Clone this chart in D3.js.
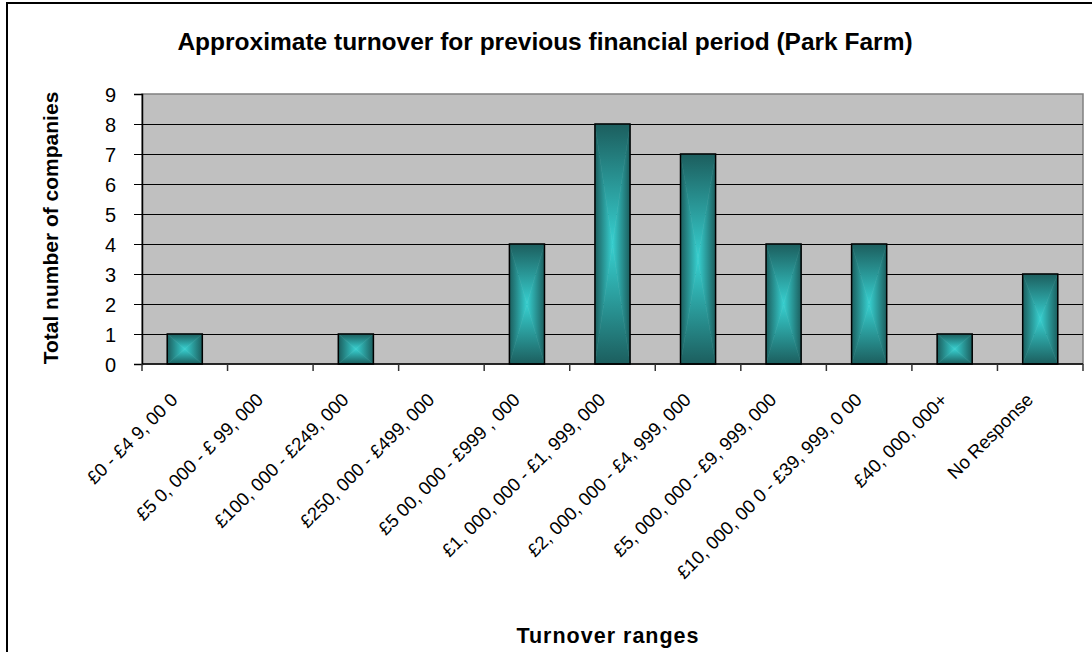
<!DOCTYPE html>
<html><head><meta charset="utf-8">
<script src="https://cdn.jsdelivr.net/npm/d3@7"></script>
<style>
html,body{margin:0;padding:0;background:#fff;}
text{font-family:"Liberation Sans",Arial,sans-serif;fill:#000;}
</style></head>
<body><svg id="c" width="1092" height="652"></svg>
<script>
const categories = ["£0 - £4 9, 00 0","£5 0, 000 - £ 99, 000","£100, 000 - £249, 000","£250, 000 - £499, 000","£5 00, 000 - £999 , 000","£1, 000, 000 - £1, 999, 000","£2, 000, 000 - £4, 999, 000","£5, 000, 000 - £9, 999, 000","£10, 000, 00 0 - £39, 999, 0 00","£40, 000, 000+","No Response"];
const values = [1,0,1,0,4,8,7,4,4,1,3];
const yTicks = [0,1,2,3,4,5,6,7,8,9];
const titleText = "Approximate turnover for previous financial period (Park Farm)";
const xTitle = "Turnover ranges";
const yTitle = "Total number of companies";

const svg = d3.select("#c");
const W=1092,H=652;
svg.append("rect").attr("x",0).attr("y",0).attr("width",W).attr("height",H).attr("fill","#fff");
svg.append("rect").attr("x",7).attr("y",3).attr("width",W+10).attr("height",H+10)
  .attr("fill","none").attr("stroke","#000").attr("stroke-width",2);

const L=142,R=1083,T=94,B=364;
const x = d3.scaleBand().domain(categories).range([L,R]).padding(0);
const y = d3.scaleLinear().domain([0,9]).range([B,T]);

// plot area
svg.append("rect").attr("x",L).attr("y",T).attr("width",R-L).attr("height",B-T)
  .attr("fill","#c0c0c0").attr("stroke","#808080").attr("stroke-width",1.5);
// gridlines
svg.append("g").selectAll("line").data(yTicks.filter(d=>d>0&&d<9)).join("line")
  .attr("x1",L).attr("x2",R).attr("y1",d=>Math.round(y(d))+0.5).attr("y2",d=>Math.round(y(d))+0.5)
  .attr("stroke","#000").attr("stroke-width",1);

// gradients
const defs = svg.append("defs");
const dark="#1c5e5e", light="#37d0d0";
function grad(id,x1,y1,x2,y2,c1,c2){
  const g=defs.append("linearGradient").attr("id",id).attr("x1",x1).attr("y1",y1).attr("x2",x2).attr("y2",y2);
  g.append("stop").attr("offset","0%").attr("stop-color",c1);
  g.append("stop").attr("offset","100%").attr("stop-color",c2);
}
grad("gTop",0,0,0,1,dark,light);
grad("gBot",0,0,0,1,light,dark);
grad("gLeft",0,0,1,0,dark,light);
grad("gRight",0,0,1,0,light,dark);

const bw = x.bandwidth()*0.41;
const bars = svg.append("g").selectAll("g").data(categories.map((c,i)=>({c,v:values[i]})).filter(d=>d.v>0)).join("g");
bars.each(function(d){
  const g=d3.select(this);
  const x0=x(d.c)+x.bandwidth()/2-bw/2, x1=x0+bw, y0=y(d.v), y1=y(0);
  const cx=(x0+x1)/2, cy=(y0+y1)/2;
  const tri=(pts,f)=>g.append("polygon").attr("points",pts.map(p=>p.join(",")).join(" ")).attr("fill",`url(#${f})`).attr("stroke",`url(#${f})`).attr("stroke-width",0.5);
  tri([[x0,y0],[x1,y0],[cx,cy]],"gTop");
  tri([[x0,y1],[x1,y1],[cx,cy]],"gBot");
  tri([[x0,y0],[x0,y1],[cx,cy]],"gLeft");
  tri([[x1,y0],[x1,y1],[cx,cy]],"gRight");
  g.append("rect").attr("x",x0).attr("y",y0).attr("width",bw).attr("height",y1-y0)
    .attr("fill","none").attr("stroke","#000").attr("stroke-width",1.5);
});

// y axis
const yAxis = d3.axisLeft(y).tickValues(yTicks).tickSize(8).tickPadding(18).tickFormat(d3.format("d"));
const ya = svg.append("g").attr("transform",`translate(${L},0)`).call(yAxis);
ya.select(".domain").attr("stroke","#000").attr("stroke-width",1.5);
ya.selectAll(".tick line").attr("stroke","#000");
ya.selectAll(".tick text").attr("font-size",20).attr("font-family","Liberation Sans, Arial").attr("fill","#000").attr("dy","0.36em");

// x axis line and ticks at boundaries
svg.append("line").attr("x1",L).attr("x2",R).attr("y1",B).attr("y2",B).attr("stroke","#000").attr("stroke-width",1.5);
const bounds = categories.map(c=>x(c)).concat([R]);
svg.append("g").selectAll("line").data(bounds).join("line")
  .attr("x1",d=>d).attr("x2",d=>d).attr("y1",B).attr("y2",B+7).attr("stroke","#333").attr("stroke-width",1.5);

// x labels
svg.append("g").selectAll("text").data(categories).join("text")
  .attr("transform",d=>`translate(${x(d)+x.bandwidth()/2-6},${B+37}) rotate(-45)`)
  .attr("text-anchor","end").attr("font-size",18.5).text(d=>d);

// titles
svg.append("text").attr("x",545).attr("y",50).attr("text-anchor","middle")
  .attr("font-size",24.5).attr("font-weight","bold").text(titleText);
svg.append("text").attr("x",608).attr("y",643).attr("text-anchor","middle")
  .attr("font-size",21.5).attr("font-weight","bold").attr("letter-spacing",1).text(xTitle);
svg.append("text").attr("transform",`translate(58,228) rotate(-90)`).attr("text-anchor","middle")
  .attr("font-size",21).attr("font-weight","bold").text(yTitle);
</script></body></html>
